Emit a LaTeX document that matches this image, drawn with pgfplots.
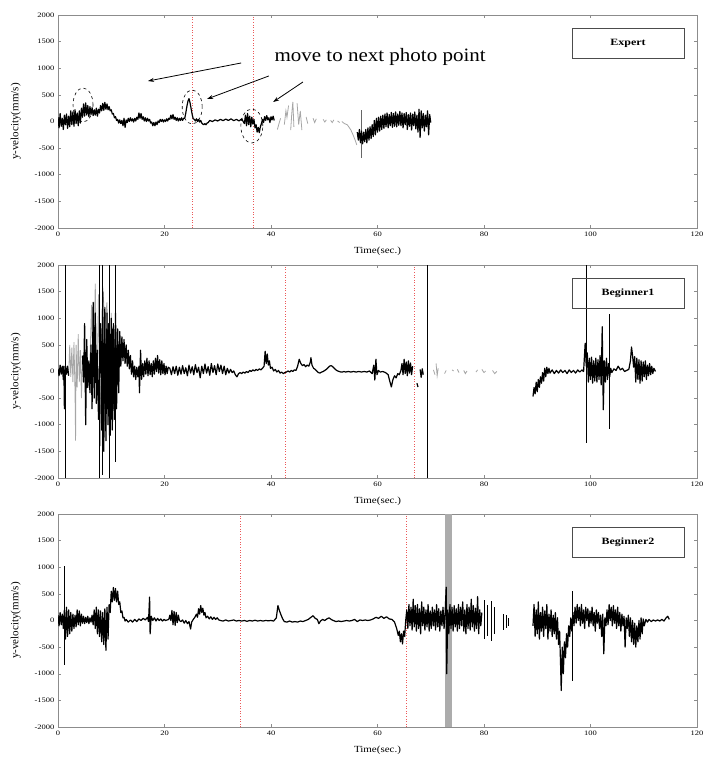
\documentclass[border=0pt]{standalone}
\usepackage{pgfplots}
\pgfplotsset{compat=1.18}
\usepackage{graphicx}
\usepackage{fontspec}
\setmainfont{Liberation Serif}
\usetikzlibrary{arrows.meta}
\definecolor{framegray}{gray}{0.55}
\definecolor{reddot}{rgb}{0.92,0.35,0.35}
\tikzset{namebox/.style={draw=black!70, line width=0.6pt, minimum width=112pt, minimum height=30pt, font=\fontsize{12}{13}\selectfont\bfseries, inner sep=0pt}}
\pgfplotsset{
  panel/.style={
    width=639pt, height=213pt, scale only axis,
    xmin=0, xmax=120, ymin=-2000, ymax=2000,
    xtick={0,20,40,60,80,100,120},
    ytick={-2000,-1500,-1000,-500,0,500,1000,1500,2000},
    tick align=inside, major tick length=3pt,
    axis line style={framegray, line width=0.6pt},
    every tick/.style={framegray, line width=0.5pt},
    /pgf/number format/assume math mode=true,
    /pgf/number format/1000 sep={},
    scaled ticks=false,
    tick label style={font=\fontsize{8.5}{9}\selectfont, yscale=0.8},
    xticklabel style={yshift=-2pt},
    xlabel={Time(sec.)},
    ylabel={y-velocity(mm/s)},
    xlabel style={font=\fontsize{11}{12}\selectfont, yscale=0.85, yshift=-5pt},
    ylabel style={font=\fontsize{11}{12}\selectfont, yshift=7pt},
    unbounded coords=jump,
  },
  trace/.style={black, line width=1.2pt, line join=round, mark=none},
  faint/.style={gray!70, line width=0.8pt, mark=none},
  marker/.style={reddot, dotted, line width=0.6pt, mark=none},
  spike/.style={black, line width=0.8pt, ycomb, mark=none},
}
\begin{document}
\begin{tikzpicture}
\useasboundingbox (0,0) rectangle (709pt,763pt);
% ---------------- Expert ----------------
\begin{axis}[panel, at={(58pt,535pt)}, anchor=south west]
\addplot[marker] coordinates {(25.2,-2000)(25.2,2000)};
\addplot[marker] coordinates {(36.6,-2000)(36.6,2000)};
\addplot[trace] coordinates {(0,80)(0.2,-120)(0.4,150)(0.6,-90)(0.8,60)(1,-150)(1.2,120)(1.4,-60)(1.6,140)(1.8,-130)(2,100)(2.2,-100)(2.4,200)(2.6,-60)(2.8,180)(3,-90)(3.2,220)(3.4,-40)(3.6,160)(3.8,-80)(4,200)(4.2,-30)(4.4,250)(4.6,80)(4.8,330)(5,100)(5.2,350)(5.4,120)(5.6,300)(5.8,90)(6,280)(6.2,130)(6.4,260)(6.6,110)(6.8,220)(7,120)(7.2,250)(7.4,100)(7.6,230)(7.8,160)(8,300)(8.2,200)(8.4,340)(8.6,210)(8.8,360)(9,230)(9.2,330)(9.4,220)(9.6,280)(9.8,200)(10,220)(10.2,140)(10.4,150)(10.6,70)(10.8,90)(11,20)(11.2,40)(11.4,-30)(11.6,30)(11.8,-40)(12,20)(12.2,-80)(12.4,60)(12.6,-110)(12.8,30)(13,-20)(13.2,60)(13.4,0)(13.6,70)(13.8,10)(14,50)(14.2,-10)(14.4,60)(14.6,10)(14.8,80)(15,40)(15.2,160)(15.4,60)(15.6,150)(15.8,40)(16,90)(16.2,10)(16.4,70)(16.6,0)(16.8,60)(17,10)(17.2,40)(17.4,-30)(17.6,-10)(17.8,-80)(18,-20)(18.2,-80)(18.4,-10)(18.6,-60)(18.8,10)(19,-20)(19.2,40)(19.4,0)(19.6,40)(19.8,-10)(20,30)(20.2,0)(20.4,50)(20.6,10)(20.8,60)(21,40)(21.2,120)(21.4,50)(21.6,130)(21.8,40)(22,80)(22.2,20)(22.4,70)(22.6,10)(22.8,60)(23,20)(23.2,70)(23.4,20)(23.6,60)(23.8,60)(24,160)(24.2,280)(24.4,380)(24.6,430)(24.8,350)(25,240)(25.2,130)(25.4,50)(25.6,40)(25.8,10)(26,50)(26.2,0)(26.4,40)(26.6,-10)(26.8,20)(27,-30)(27.2,-50)(27.4,-60)(27.6,-40)(27.8,-60)(28,-30)(28.2,-20)(28.5,20)(29,0)(29.5,30)(30,10)(30.5,40)(31,15)(31.5,45)(32,20)(32.5,50)(33,15)(33.5,40)(34,10)(34.5,50)(35,-40)(35.2,120)(35.4,-80)(35.6,150)(35.8,-60)(36,100)(36.2,-100)(36.4,80)(36.6,-50)(36.8,40)(37,-120)(37.2,-60)(37.4,-200)(37.6,-110)(37.8,-210)(38,-100)(38.2,-40)(38.4,40)(38.6,-20)(38.8,90)(39,20)(39.2,110)(39.4,30)(39.6,70)(39.8,-20)(40,90)(40.2,30)(40.4,100)(40.6,20)};
\addplot[faint] coordinates {(41.2,-150)(41.5,-40)(41.8,60)(42,nan)(42.5,-60)(42.8,200)(43.0,80)(43.3,300)(43.5,nan)(43.7,-160)(43.9,150)(44.1,370)(44.3,-100)(44.5,nan)(44.9,340)(45.2,-60)(45.5,200)(45.8,-160)(46,nan)(46.6,85)(46.9,-40)(47.2,nan)(47.9,60)(48.2,-20)(48.5,50)(48.7,nan)(49.8,40)(50.1,-10)(50.4,30)(50.6,nan)(51.2,20)(51.5,-20)(51.8,30)(52.0,nan)(52.5,10)(52.9,-20)(53.1,nan)(53.3,0)(53.8,-40)(54.3,-60)(54.6,-100)(55,-160)(55.4,-250)(55.8,-350)(56.1,-440)};
\addplot[spike, gray!80!black] coordinates {(57,216)(57,-690)};
\addplot[trace] coordinates {(56.2,-200)(56.4,-350)(56.6,-150)(56.8,-400)(57.0,-180)(57.2,-420)(57.4,-200)(57.6,-380)(57.8,-150)(58.0,-400)(58.2,-120)(58.4,-350)(58.6,-100)(58.8,-320)(59.0,-60)(59.2,-280)(59.4,20)(59.6,-250)(59.8,60)(60.0,-200)(60.2,80)(60.4,-180)(60.6,100)(60.8,-150)(61.0,120)(61.2,-130)(61.4,140)(61.6,-100)(61.8,160)(62.0,-120)(62.2,130)(62.4,-80)(62.6,170)(62.8,-110)(63.0,150)(63.2,-90)(63.4,180)(63.6,-100)(63.8,140)(64.0,-70)(64.2,190)(64.4,-80)(64.6,160)(64.8,-120)(65.0,150)(65.2,-60)(65.4,170)(65.6,-150)(65.8,130)(66.0,-90)(66.2,160)(66.4,-160)(66.6,140)(66.8,-80)(67.0,180)(67.2,-140)(67.4,120)(67.6,-200)(67.8,230)(68.0,-300)(68.2,200)(68.4,-120)(68.6,150)(68.8,-180)(69.0,120)(69.2,-100)(69.4,200)(69.6,-250)(69.8,130)(70.0,-20)};
\draw[dashed, line width=0.6pt] (axis cs:4.7,310) ellipse [x radius=10pt, y radius=17pt];
\draw[dashed, line width=0.6pt] (axis cs:25.2,272) ellipse [x radius=10pt, y radius=17pt];
\draw[dashed, line width=0.6pt] (axis cs:36.4,-85) ellipse [x radius=11pt, y radius=17pt];
\draw[-{Stealth[length=6pt,width=4pt]}, line width=0.8pt] (axis cs:34.4,1099) -- (axis cs:16.9,760);
\draw[-{Stealth[length=6pt,width=4pt]}, line width=0.8pt] (axis cs:39.6,855) -- (axis cs:28.0,423);
\draw[-{Stealth[length=6pt,width=4pt]}, line width=0.8pt] (axis cs:46.0,742) -- (axis cs:40.4,366);
\node[font=\fontsize{21}{22}\selectfont, yscale=0.9] at (axis cs:60.5,1211) {move to next photo point};
\node[namebox] at (rel axis cs:0.892,0.869) {\scalebox{1}[0.8]{Expert}};
\end{axis}
% ---------------- Beginner1 ----------------
\begin{axis}[panel, at={(58pt,285pt)}, anchor=south west]
\addplot[marker] coordinates {(42.6,-2000)(42.6,2000)};
\addplot[marker] coordinates {(66.9,-2000)(66.9,2000)};
\addplot[faint] coordinates {(2,-80)(2.2,500)(2.4,-100)(2.6,450)(2.8,-200)(3,550)(3.2,-400)(3.3,-1300)(3.4,500)(3.6,-300)(3.8,700)(4,-200)(4.2,400)(4.4,-500)(4.6,300)(4.7,nan)(6,200)(6.3,1250)(6.6,-300)(7,1650)(7.3,-600)(7.6,1450)(8,-1400)(8.4,1600)(8.8,900)(9.2,1300)(9.6,-1200)(10,1100)};
\addplot[spike] coordinates {(1.3,2000)(1.3,-2000)(7.8,2000)(7.8,-2000)(8.3,2000)(8.3,-1950)(9.7,2000)(9.7,-2000)(10.8,2000)(10.8,-1700)(69.3,2000)(69.3,-2000)(99.3,2000)(99.3,-1350)(103.6,1085)(103.6,-1075)};
\addplot[trace] coordinates {(8.1,-800)(8.3,700)(8.5,-900)(8.7,600)(8.9,-1000)(9.1,800)(9.3,-700)(9.5,900)(9.7,-800)(9.9,700)(10.1,-900)(10.3,800)(10.5,-700)(10.7,600)(10.9,-600)(11.1,500)};
\addplot[trace] coordinates {(0,50)(0.2,-80)(0.4,120)(0.6,-50)(0.8,100)(1,-150)(1.1,100)(1.2,-700)(1.4,100)(1.6,-50)(1.8,100)(2,-80)(2.1,nan)(4.6,300)(4.8,-200)(5,900)(5.2,-1000)(5.4,600)(5.6,-300)(5.8,200)(6,-400)(6.2,500)(6.4,-700)(6.6,1300)(6.8,-500)(7,1100)(7.2,-600)(7.4,400)(7.6,-900)(8,900)(8.2,-1100)(8.4,1500)(8.6,-1500)(8.8,1200)(9,-1300)(9.2,1100)(9.4,-1000)(9.6,800)(9.8,-1200)(10,1000)(10.2,-1100)(10.4,900)(10.6,-900)(10.8,1100)(11,-700)(11.2,800)(11.4,-400)(11.6,750)(11.8,100)(12,650)(12.2,200)(12.4,600)(12.6,150)(12.8,500)(13,100)(13.2,400)(13.4,50)(13.6,300)(13.8,-50)(14,200)(14.2,-100)(14.4,100)(14.6,-150)(14.8,80)(15,-100)(15.2,100)(15.3,-400)(15.5,400)(15.7,-150)(15.9,150)(16.1,-100)(16.3,200)(16.5,-50)(16.7,250)(16.9,-80)(17.1,200)(17.3,-60)(17.5,150)(17.7,-100)(17.9,200)(18.1,-50)(18.3,250)(18.5,0)(18.7,300)(18.9,-30)(19.1,220)(19.3,-60)(19.5,200)(19.7,-40)(19.9,150)(20.1,-60)(20.3,100)(20.5,-40)(20.7,80)(21.0,60)(21.3,-60)(21.6,90)(21.9,-40)(22.2,100)(22.5,-70)(22.8,80)(23.1,-50)(23.4,110)(23.7,-40)(24.0,70)(24.3,-80)(24.6,120)(24.9,-30)(25.2,90)(25.5,-60)(25.8,130)(26.1,-20)(26.4,80)(26.7,-120)(27.0,100)(27.3,-40)(27.6,140)(27.9,-30)(28.2,90)(28.5,-70)(28.8,150)(29.1,-20)(29.4,110)(29.7,-60)(30.0,140)(30.3,0)(30.6,120)(30.9,-40)(31.2,100)(31.5,-60)(31.8,60)(32.1,-30)(32.4,40)(32.7,-20)(33.0,10)(33.3,-60)(33.6,-100)(33.9,-40)(34.2,-20)(34.5,-40)(34.8,-10)(35.1,-30)(35.4,0)(35.7,-20)(36.0,20)(36.3,0)(36.6,30)(36.9,10)(37.2,40)(37.5,20)(37.8,50)(38.1,30)(38.4,60)(38.7,100)(38.9,380)(39.1,150)(39.3,330)(39.5,120)(39.7,200)(39.9,60)(40.2,80)(40.5,10)(40.8,40)(41.1,-10)(41.4,20)(41.7,-30)(42.0,-10)(42.3,-40)(42.6,-20)(42.9,-10)(43.2,10)(43.5,-10)(43.8,20)(44.1,0)(44.4,30)(44.7,20)(45.0,100)(45.3,230)(45.6,150)(45.9,110)(46.2,130)(46.5,90)(46.8,120)(47.1,100)(47.4,180)(47.5,260)(47.7,120)(48.0,60)(48.3,40)(48.6,10)(48.9,-20)(49.2,-30)(49.5,-10)(49.8,0)(50.1,20)(50.4,40)(50.7,70)(51.0,100)(51.3,110)(51.6,90)(51.9,60)(52.2,30)(52.5,10)(52.8,0)(53.1,-10)(53.4,-10)(53.7,0)(54.0,-10)(54.5,0)(55.0,-10)(55.5,0)(56.0,-10)(56.5,0)(57.0,-10)(57.5,0)(58.0,-10)(58.5,10)(59.0,-40)(59.3,120)(59.5,-160)(59.7,230)(59.9,-60)(60.2,20)(60.5,-10)(61.0,0)(61.5,-20)(62.0,-60)(62.3,-180)(62.6,-290)(62.9,-150)(63.2,-80)(63.5,-120)(63.8,-40)(64.1,-60)(64.4,20)(64.6,150)(64.8,-60)(65.0,230)(65.2,-40)(65.4,180)(65.6,-80)(65.8,200)(66.0,-30)(66.2,160)(66.4,-60)(66.6,100)(66.8,nan)(67.4,-220)(67.6,-290)(67.7,nan)(68.0,40)(68.2,-110)(68.4,50)(68.6,-60)(68.7,nan)(89.2,-470)(89.4,-300)(89.6,-420)(89.8,-200)(90.0,-380)(90.2,-150)(90.4,-300)(90.6,-100)(90.8,-220)(91.0,-20)(91.2,-180)(91.4,60)(91.6,-100)(91.8,80)(92.0,-40)(92.2,60)(92.4,-30)(92.8,30)(93.2,-40)(93.6,20)(94.0,-30)(94.4,30)(94.8,-20)(95.2,20)(95.6,-40)(96.0,30)(96.4,-20)(96.8,20)(97.2,-30)(97.6,30)(98.0,-10)(98.4,30)(98.7,0)(99.0,530)(99.2,100)(99.4,350)(99.6,-200)(99.8,250)(100.0,-150)(100.2,270)(100.4,-220)(100.6,200)(100.8,-180)(101.0,250)(101.2,-200)(101.4,220)(101.6,-150)(101.8,300)(102.0,-250)(102.2,840)(102.4,-720)(102.6,200)(102.8,-200)(103.0,250)(103.2,-150)(103.4,150)(103.6,-100)(103.8,60)(104.0,-20)(104.4,50)(104.8,20)(105.2,100)(105.6,30)(106.0,60)(106.4,0)(106.8,20)(107.2,40)(107.5,200)(107.7,460)(107.9,300)(108.1,80)(108.3,280)(108.5,-200)(108.7,250)(108.9,-150)(109.1,220)(109.3,-220)(109.5,200)(109.7,-180)(109.9,180)(110.1,-100)(110.3,200)(110.5,-150)(110.7,120)(110.9,-80)(111.1,150)(111.3,-60)(111.5,100)(111.7,-40)(111.9,60)(112.2,0)};
\addplot[faint] coordinates {(70.5,30)(70.8,-60)(70.9,nan)(71.0,150)(71.2,-80)(71.4,60)(71.5,nan)(72.6,-40)(72.9,20)(73,nan)(74,30)(74.3,10)(74.4,nan)(75,40)(75.3,-20)(75.4,nan)(76.2,20)(76.5,-40)(76.8,10)(76.9,nan)(78.5,-10)(78.8,30)(78.9,nan)(79.6,40)(80,-20)(80.3,10)(80.4,nan)(81.6,20)(82,-40)(82.4,0)};
\node[namebox] at (rel axis cs:0.892,0.869) {\scalebox{1}[0.8]{Beginner1}};
\end{axis}
% ---------------- Beginner2 ----------------
\begin{axis}[panel, at={(58pt,36pt)}, anchor=south west]
\addplot[fill=gray!65, draw=none] coordinates {(72.7,-2000)(74.0,-2000)(74.0,2000)(72.7,2000)} -- cycle;
\addplot[marker] coordinates {(34.2,-2000)(34.2,2000)};
\addplot[marker] coordinates {(65.4,-2000)(65.4,2000)};
\addplot[spike] coordinates {(1.25,1030)(1.25,-845)(96.6,560)(96.6,-1130)(80,380)(80,-350)(80.7,300)(80.7,-300)(81.4,370)(81.4,-380)(82,250)(82,-250)(83.6,120)(83.6,-180)(84.2,100)(84.2,-150)(84.6,50)(84.6,-100)};
\addplot[trace] coordinates {(0.0,100)(0.2,-100)(0.4,150)(0.6,-80)(0.8,120)(1.0,-150)(1.2,200)(1.4,-350)(1.6,250)(1.8,-300)(2.0,200)(2.2,-250)(2.4,150)(2.6,-200)(2.8,120)(3.0,-150)(3.2,100)(3.4,-120)(3.6,200)(3.8,-80)(4.0,180)(4.2,-100)(4.4,120)(4.6,-50)(4.8,80)(5.0,-60)(5.2,60)(5.4,-40)(5.6,80)(5.8,-60)(6.0,50)(6.2,-30)(6.4,100)(6.6,-80)(6.8,200)(7.0,-150)(7.2,250)(7.4,-250)(7.6,200)(7.8,-300)(8.0,180)(8.2,-400)(8.4,150)(8.6,-450)(8.8,220)(9.0,-560)(9.2,250)(9.4,-350)(9.6,300)(9.8,150)(10.0,550)(10.2,350)(10.4,620)(10.6,380)(10.8,600)(11.0,350)(11.2,550)(11.4,300)(11.6,350)(11.8,150)(12.0,180)(12.2,50)(12.4,60)(12.6,-10)(12.8,20)(13.2,-30)(13.6,10)(14.0,-30)(14.4,20)(14.8,-20)(15.2,30)(15.6,0)(16.0,40)(16.4,10)(16.8,60)(17.0,-20)(17.2,440)(17.3,-250)(17.5,80)(17.8,0)(18.1,50)(18.4,-10)(18.7,40)(19.0,0)(19.3,30)(19.6,-10)(19.9,20)(20.2,0)(20.5,10)(20.8,20)(21.0,100)(21.2,0)(21.4,190)(21.6,-80)(21.8,170)(22.0,-90)(22.2,150)(22.4,-40)(22.6,100)(22.8,0)(23.1,-20)(23.4,10)(23.7,-50)(24.0,0)(24.3,-60)(24.6,-20)(24.9,-160)(25.1,-30)(25.4,20)(25.7,60)(26.0,120)(26.2,60)(26.4,220)(26.6,120)(26.8,280)(27.0,150)(27.2,230)(27.4,100)(27.6,150)(27.8,50)(28.1,80)(28.4,30)(28.7,70)(29.0,20)(29.3,60)(29.6,20)(29.9,50)(30.2,10)(30.5,0)(31,-10)(31.5,10)(32,-10)(32.5,0)(33,10)(33.5,-10)(34,0)(34.5,-10)(35,0)(35.5,-15)(36,0)(36.5,-10)(37,5)(37.5,-10)(38,0)(38.5,-10)(39,0)(39.5,-5)(40,0)(40.5,-10)(41.0,50)(41.3,280)(41.6,180)(41.9,100)(42.2,30)(42.5,-20)(43,-30)(43.5,-10)(44,-30)(44.5,-20)(45,-30)(45.5,-10)(46,-20)(46.5,0)(47,20)(47.5,60)(47.9,90)(48.3,40)(48.7,20)(49.0,-60)(49.3,-10)(49.7,20)(50.1,0)(50.5,30)(50.9,50)(51.3,20)(51.7,0)(52.2,-20)(52.7,-10)(53.2,-20)(53.7,-10)(54.2,0)(54.7,-10)(55.2,0)(55.7,20)(56.2,-20)(56.7,10)(57.2,0)(57.7,10)(58.2,0)(58.7,10)(59.2,30)(59.7,60)(60.2,40)(60.7,80)(61.2,40)(61.7,70)(62.2,30)(62.7,20)(63.2,-30)(63.6,-150)(63.9,-280)(64.1,-200)(64.3,-400)(64.5,-250)(64.7,-440)(64.9,-200)(65.1,-300)(65.3,0)(65.5,200)(65.7,-150)(65.9,300)(66.1,-100)(66.3,250)(66.5,-180)(66.7,400)(66.9,-120)(67.1,280)(67.3,-200)(67.5,300)(67.7,-150)(67.9,220)(68.1,-250)(68.3,350)(68.5,-100)(68.7,250)(68.9,-180)(69.1,200)(69.3,-120)(69.5,300)(69.7,-200)(69.9,180)(70.1,-150)(70.3,250)(70.5,-100)(70.7,200)(70.9,-180)(71.1,300)(71.3,-120)(71.5,220)(71.7,-200)(71.9,180)(72.1,-100)(72.3,250)(72.5,-150)(72.7,150)(72.9,626)(73.0,-1000)(73.2,200)(73.4,-250)(73.6,300)(73.8,-150)(74.0,250)(74.2,-200)(74.4,280)(74.6,-120)(74.8,220)(75.0,-200)(75.2,300)(75.4,-150)(75.6,250)(75.8,-100)(76.0,350)(76.2,-200)(76.4,200)(76.6,-250)(76.8,300)(77.0,-150)(77.2,250)(77.4,-180)(77.6,400)(77.8,-120)(78.0,280)(78.2,-200)(78.4,230)(78.6,-150)(78.8,450)(79.0,-250)(79.2,200)(79.4,-100)(79.6,150)(79.7,nan)(89.2,-100)(89.4,300)(89.6,-300)(89.8,200)(90.0,-250)(90.2,350)(90.4,-350)(90.6,150)(90.8,-200)(91.0,250)(91.2,-300)(91.4,180)(91.6,-150)(91.8,300)(92.0,-350)(92.2,120)(92.4,-200)(92.6,200)(92.8,-300)(93.0,100)(93.2,-250)(93.4,150)(93.6,-350)(93.8,50)(94.0,-450)(94.2,-200)(94.4,-900)(94.5,-1315)(94.7,-500)(94.9,-1000)(95.1,-400)(95.3,-700)(95.5,-250)(95.7,-500)(95.9,-100)(96.1,-300)(96.3,50)(96.5,-200)(96.7,150)(96.9,-100)(97.1,250)(97.3,-50)(97.5,300)(97.7,0)(97.9,250)(98.1,-100)(98.3,300)(98.5,-50)(98.7,200)(98.9,-150)(99.1,250)(99.3,0)(99.5,220)(99.7,-120)(99.9,180)(100.1,-50)(100.3,250)(100.5,-100)(100.7,150)(100.9,-200)(101.1,200)(101.3,-50)(101.5,150)(101.7,-150)(101.9,100)(102.1,-300)(102.3,120)(102.5,-625)(102.7,50)(102.9,-100)(103.1,200)(103.3,-80)(103.5,300)(103.7,0)(103.9,250)(104.1,-100)(104.3,280)(104.5,-50)(104.7,200)(104.9,-150)(105.1,250)(105.3,-100)(105.5,150)(105.7,-200)(105.9,120)(106.1,-100)(106.3,80)(106.5,-500)(106.7,50)(106.9,-150)(107.1,100)(107.3,-300)(107.5,50)(107.7,-400)(107.9,0)(108.1,-450)(108.3,-50)(108.5,-500)(108.7,-100)(108.9,-400)(109.1,0)(109.3,-350)(109.5,50)(109.7,-250)(109.9,30)(110.1,-100)(110.4,20)(110.7,-30)(111.0,20)(111.4,-20)(111.8,10)(112.2,-10)(112.6,10)(113.0,-10)(113.4,20)(113.8,-10)(114.2,50)(114.5,80)(114.8,20)};
\node[namebox] at (rel axis cs:0.892,0.869) {\scalebox{1}[0.8]{Beginner2}};
\end{axis}
\end{tikzpicture}
\end{document}
